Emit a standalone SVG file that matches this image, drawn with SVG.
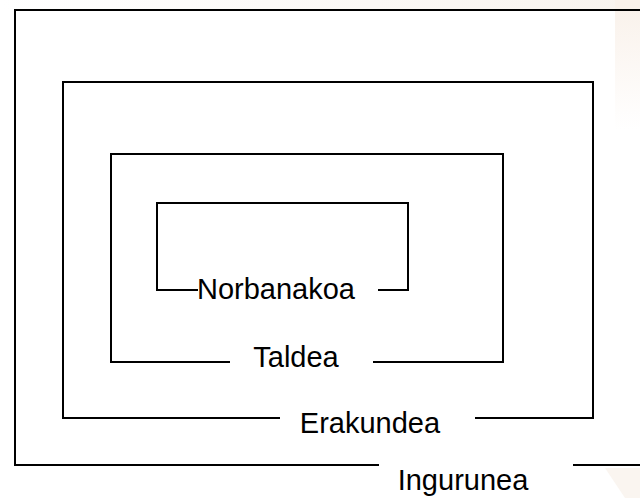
<svg xmlns="http://www.w3.org/2000/svg" width="640" height="498" viewBox="0 0 640 498">
<defs>
<linearGradient id="topfade" x1="0" y1="0" x2="1" y2="0">
<stop offset="0" stop-color="#f8f3ee" stop-opacity="0"/>
<stop offset="0.6" stop-color="#f8f3ee" stop-opacity="0.6"/>
<stop offset="1" stop-color="#f8f3ee" stop-opacity="1"/>
</linearGradient>
<linearGradient id="sidefade" x1="0" y1="0" x2="0" y2="1">
<stop offset="0" stop-color="#f9f1ea" stop-opacity="1"/>
<stop offset="1" stop-color="#f9f1ea" stop-opacity="0"/>
</linearGradient>
</defs>
<style>
.ln{fill:none;stroke:#000;stroke-width:2;stroke-linecap:square;stroke-linejoin:miter}
.lb{font-family:"Liberation Sans",Arial,sans-serif;font-size:29px;fill:#000}
</style>
<rect width="640" height="498" fill="#fff"/>
<rect x="0" y="0" width="640" height="10" fill="url(#topfade)"/>
<rect x="615" y="0" width="25" height="130" fill="url(#sidefade)"/>
<polygon points="605,468 640,468 640,498 625,498" fill="#faf5f0"/>
<g id="connectors"></g>
<g id="ingurunea">
<polyline class="ln" points="378,465 15,465 15,10 640,10"/>
<line class="ln" x1="574" y1="465" x2="640" y2="465"/>
<text class="lb" x="463" y="490" text-anchor="middle">Ingurunea</text>
</g>
<g id="erakundea">
<polyline class="ln" points="279,418 63,418 63,82 593,82 593,418 476,418"/>
<text class="lb" x="370" y="433" text-anchor="middle">Erakundea</text>
</g>
<g id="taldea">
<polyline class="ln" points="229,362 111,362 111,154 503,154 503,362 374,362"/>
<text class="lb" x="296" y="367" text-anchor="middle">Taldea</text>
</g>
<g id="norbanakoa">
<polyline class="ln" points="197,290 157,290 157,203 408,203 408,290 379,290"/>
<text class="lb" x="197" y="299">Norbanakoa</text>
</g>
</svg>
